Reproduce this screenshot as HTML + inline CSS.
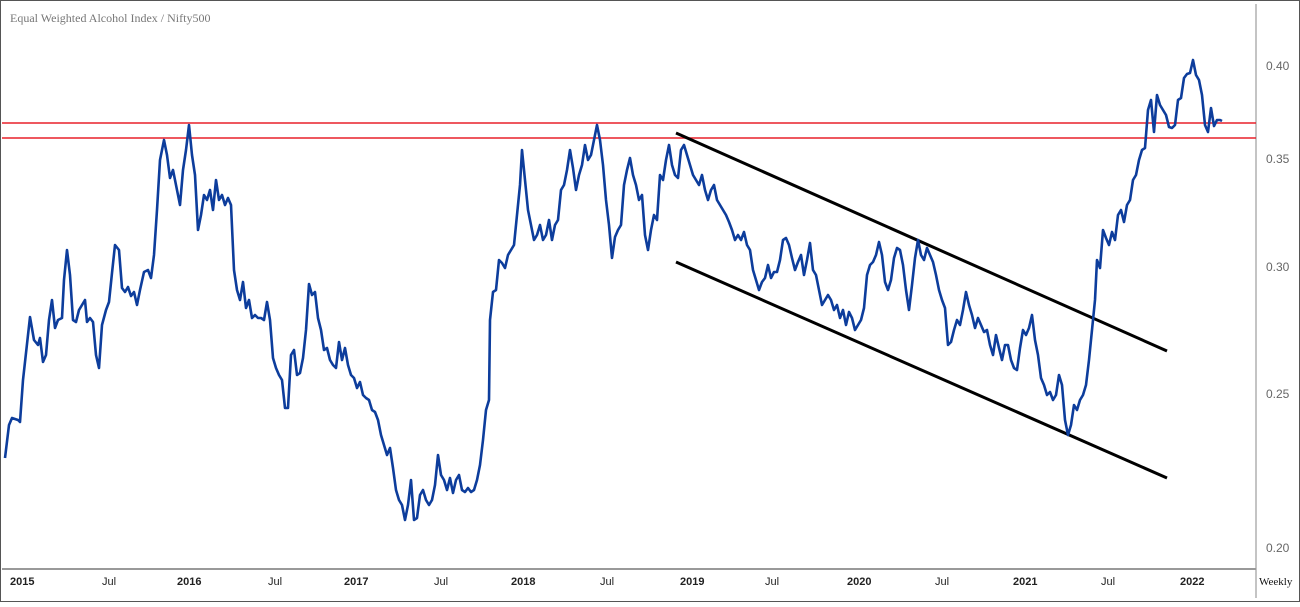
<!DOCTYPE html>
<html><head><meta charset="utf-8"><style>
html,body{margin:0;padding:0;background:#fff}
body{width:1300px;height:602px;position:relative;overflow:hidden;font-family:"Liberation Serif",serif}
</style></head><body>
<svg width="1300" height="602" viewBox="0 0 1300 602" xmlns="http://www.w3.org/2000/svg">
<rect x="0.5" y="0.5" width="1299" height="601" fill="#fff" stroke="#555" stroke-width="1"/>
<line x1="1256" y1="4" x2="1256" y2="598" stroke="#888" stroke-width="1"/>
<line x1="2" y1="569" x2="1256" y2="569" stroke="#999" stroke-width="2"/>
<text x="10" y="22" font-size="12" fill="#777" font-family="Liberation Serif,serif">Equal Weighted Alcohol Index / Nifty500</text>
<g font-size="12" fill="#666" font-family="Liberation Sans,sans-serif">
<text x="1266" y="70">0.40</text><text x="1266" y="163">0.35</text><text x="1266" y="271">0.30</text><text x="1266" y="398">0.25</text><text x="1266" y="552">0.20</text>
</g>
<g font-size="11" fill="#222" font-family="Liberation Sans,sans-serif" font-weight="bold">
<text x="10" y="585">2015</text><text x="102" y="585" font-weight="normal">Jul</text>
<text x="177" y="585">2016</text><text x="268" y="585" font-weight="normal">Jul</text>
<text x="344" y="585">2017</text><text x="434" y="585" font-weight="normal">Jul</text>
<text x="511" y="585">2018</text><text x="600" y="585" font-weight="normal">Jul</text>
<text x="680" y="585">2019</text><text x="765" y="585" font-weight="normal">Jul</text>
<text x="847" y="585">2020</text><text x="935" y="585" font-weight="normal">Jul</text>
<text x="1013" y="585">2021</text><text x="1101" y="585" font-weight="normal">Jul</text>
<text x="1180" y="585">2022</text>
<text x="1259" y="585" font-weight="normal" fill="#111" font-family="Liberation Serif,serif">Weekly</text>
</g>
<line x1="2" y1="123" x2="1256" y2="123" stroke="#e8202a" stroke-width="1.5"/>
<line x1="2" y1="138" x2="1256" y2="138" stroke="#e8202a" stroke-width="1.5"/>
<line x1="676" y1="133" x2="1167" y2="351" stroke="#000" stroke-width="3"/>
<line x1="676" y1="262" x2="1167" y2="478" stroke="#000" stroke-width="3"/>
<polyline fill="none" stroke="#0d3d9c" stroke-width="2.6" stroke-linejoin="round" points="5,458 9,425 12,418 18,420 20,422 23,380 30,317 34,340 38,345 40,338 43,362 46,355 49,320 52,300 55,328 58,320 62,318 64,280 67,250 70,275 73,320 76,322 79,310 82,305 85,300 87,322 90,318 93,322 96,355 99,368 102,325 106,310 109,302 112,273 115,245 119,250 122,288 125,292 128,287 131,296 134,292 137,305 140,290 144,272 148,270 151,278 154,255 157,210 160,160 164,140 167,155 170,178 173,170 176,185 180,205 183,170 186,150 189,125 192,155 195,175 198,230 201,215 204,195 207,200 210,190 213,210 216,180 219,200 222,195 225,205 228,198 231,205 234,270 237,290 240,300 243,282 246,308 249,300 252,318 255,315 258,318 261,318 264,320 267,302 270,320 273,358 276,368 279,375 282,380 285,408 288,408 291,355 294,350 297,375 300,373 303,358 306,330 309,284 312,295 315,292 318,318 321,330 324,350 327,348 330,360 333,365 336,368 339,342 342,360 345,348 348,365 351,375 354,378 357,388 360,382 363,395 366,398 369,400 372,410 375,412 378,420 381,435 384,445 387,455 390,448 393,468 396,490 399,500 402,505 405,520 408,505 411,480 414,520 417,518 420,495 423,490 426,500 429,505 432,500 435,485 438,455 441,475 444,480 447,490 450,478 453,493 456,480 459,475 462,490 465,492 468,488 471,492 474,490 477,480 480,465 483,440 486,410 489,400 490,320 493,292 496,290 499,260 502,263 505,268 508,255 511,250 514,245 517,215 520,185 522,150 525,180 528,210 531,225 534,240 537,235 540,225 543,240 546,235 549,220 552,240 555,225 558,220 561,190 564,185 567,170 570,150 573,168 576,190 579,175 582,165 585,145 588,160 591,155 594,140 597,125 600,140 603,165 606,200 609,225 612,258 615,237 618,230 621,225 624,185 627,170 630,158 633,175 636,185 639,200 642,195 645,235 648,250 651,230 654,215 657,220 660,175 663,180 666,160 669,145 672,165 675,175 678,178 681,150 684,145 687,155 690,165 693,175 696,180 699,185 702,175 705,190 708,200 711,190 714,185 717,200 720,205 723,210 726,215 729,222 732,230 735,240 738,235 741,240 744,232 747,245 750,250 753,270 756,280 759,290 762,282 765,278 768,265 771,278 774,272 777,272 780,260 783,240 786,238 789,245 792,258 795,270 798,262 801,255 804,275 807,260 810,243 813,270 816,275 819,290 822,305 825,300 828,295 831,300 834,310 837,305 840,318 843,310 846,325 849,312 852,318 855,330 858,325 861,320 864,308 867,275 870,265 873,262 876,255 879,242 882,255 885,282 888,290 891,280 894,258 897,248 900,250 903,265 906,290 909,310 912,285 915,258 918,240 921,255 924,260 927,248 930,255 933,262 936,275 939,290 942,300 945,308 948,345 951,342 954,330 957,320 960,325 963,310 966,292 969,305 972,315 975,328 978,318 981,325 984,332 987,330 990,345 993,355 996,335 999,348 1002,360 1005,345 1008,345 1011,360 1014,368 1017,370 1020,348 1023,330 1026,335 1029,328 1032,315 1035,340 1038,355 1041,378 1044,385 1047,395 1050,392 1053,400 1056,395 1059,375 1062,385 1065,420 1068,435 1071,425 1074,405 1077,410 1080,400 1083,395 1086,385 1089,360 1092,330 1095,300 1097,260 1100,268 1103,230 1106,238 1109,245 1112,232 1115,240 1118,215 1121,210 1124,222 1127,205 1130,200 1133,180 1136,175 1139,160 1142,150 1145,148 1148,110 1151,100 1154,132 1157,95 1160,105 1163,110 1166,115 1169,127 1172,128 1175,125 1178,100 1181,98 1184,78 1187,74 1190,73 1193,60 1196,75 1199,80 1202,95 1205,125 1208,132 1211,108 1214,126 1217,120 1220,120 1222,121"/>
</svg>
</body></html>
